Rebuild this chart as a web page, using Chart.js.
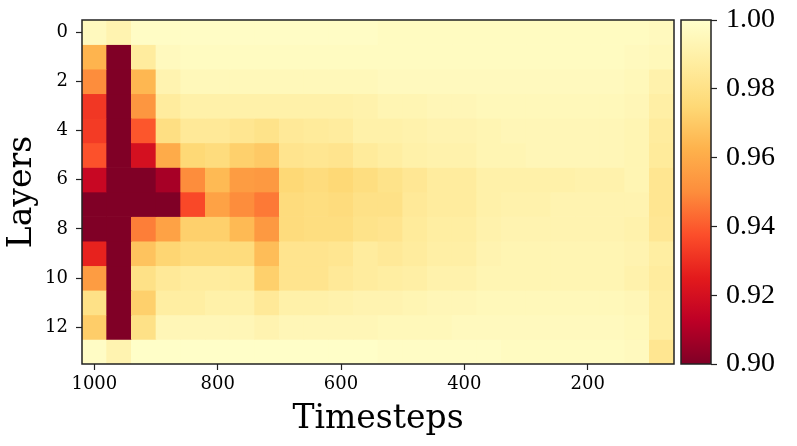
<!DOCTYPE html>
<html>
<head>
<meta charset="utf-8">
<script src="https://cdn.jsdelivr.net/npm/chart.js@4.4.1/dist/chart.umd.min.js"></script>
<style>
  body { margin: 0; background: #fff; }
  #wrap { position: relative; width: 797px; height: 446px; }
  canvas { position: absolute; top: 0; }
</style>
</head>
<body>
<div id="wrap">
  <canvas id="heat" width="680" height="446" style="left:0"></canvas>
  <canvas id="cbar" width="127" height="446" style="left:670px"></canvas>
</div>
<script>
// columns = timesteps, rows = layers
const timesteps = ['1000', '960', '920', '880', '840', '800', '760', '720', '680', '640', '600', '560',
  '520', '480', '440', '400', '360', '320', '280', '240', '200', '160', '120', '80'];
const xTickLabels = ['1000', '800', '600', '400', '200'];
const layerTicks = [0, 2, 4, 6, 8, 10, 12];
const cbarTicks = [0.90, 0.92, 0.94, 0.96, 0.98, 1.00];

const layer0 = [0.996, 0.992, 0.998, 0.998, 0.998, 0.998, 0.998, 0.998, 0.998, 0.998, 0.998, 0.998, 0.997, 0.997, 0.997, 0.997, 0.997, 0.997, 0.997, 0.997, 0.997, 0.997, 0.997, 0.996];
const layer1 = [0.963, 0.890, 0.987, 0.996, 0.997, 0.997, 0.997, 0.997, 0.997, 0.997, 0.997, 0.997, 0.997, 0.997, 0.997, 0.997, 0.997, 0.997, 0.997, 0.997, 0.997, 0.997, 0.996, 0.995];
const layer2 = [0.950, 0.890, 0.964, 0.992, 0.995, 0.995, 0.995, 0.995, 0.995, 0.995, 0.995, 0.995, 0.996, 0.996, 0.996, 0.996, 0.996, 0.996, 0.996, 0.996, 0.996, 0.996, 0.995, 0.991];
const layer3 = [0.932, 0.890, 0.953, 0.987, 0.990, 0.990, 0.990, 0.990, 0.990, 0.990, 0.990, 0.991, 0.993, 0.993, 0.994, 0.994, 0.995, 0.995, 0.995, 0.995, 0.995, 0.995, 0.994, 0.989];
const layer4 = [0.933, 0.890, 0.939, 0.979, 0.985, 0.985, 0.983, 0.981, 0.985, 0.986, 0.987, 0.990, 0.990, 0.991, 0.992, 0.992, 0.993, 0.994, 0.994, 0.994, 0.994, 0.994, 0.993, 0.987];
const layer5 = [0.938, 0.890, 0.920, 0.960, 0.975, 0.977, 0.972, 0.970, 0.982, 0.983, 0.982, 0.986, 0.988, 0.990, 0.991, 0.991, 0.993, 0.993, 0.994, 0.994, 0.994, 0.994, 0.993, 0.986];
const layer6 = [0.916, 0.890, 0.890, 0.908, 0.950, 0.965, 0.955, 0.954, 0.975, 0.977, 0.975, 0.978, 0.981, 0.984, 0.987, 0.987, 0.990, 0.990, 0.990, 0.990, 0.991, 0.991, 0.993, 0.983];
const layer7 = [0.890, 0.890, 0.890, 0.890, 0.936, 0.957, 0.950, 0.946, 0.977, 0.978, 0.977, 0.980, 0.980, 0.985, 0.987, 0.987, 0.990, 0.991, 0.991, 0.992, 0.992, 0.992, 0.992, 0.983];
const layer8 = [0.890, 0.890, 0.947, 0.957, 0.972, 0.972, 0.965, 0.954, 0.977, 0.978, 0.978, 0.981, 0.982, 0.986, 0.988, 0.988, 0.991, 0.992, 0.992, 0.992, 0.992, 0.992, 0.991, 0.984];
const layer9 = [0.927, 0.890, 0.968, 0.974, 0.977, 0.977, 0.977, 0.966, 0.982, 0.982, 0.983, 0.987, 0.985, 0.987, 0.989, 0.989, 0.992, 0.993, 0.993, 0.993, 0.993, 0.993, 0.992, 0.988];
const layer10 = [0.955, 0.890, 0.980, 0.985, 0.987, 0.987, 0.986, 0.972, 0.982, 0.982, 0.985, 0.987, 0.988, 0.989, 0.991, 0.991, 0.993, 0.993, 0.993, 0.993, 0.993, 0.993, 0.991, 0.987];
const layer11 = [0.980, 0.890, 0.972, 0.988, 0.988, 0.990, 0.990, 0.985, 0.990, 0.990, 0.991, 0.992, 0.992, 0.993, 0.994, 0.994, 0.995, 0.995, 0.995, 0.995, 0.995, 0.995, 0.994, 0.988];
const layer12 = [0.971, 0.890, 0.980, 0.994, 0.994, 0.994, 0.994, 0.992, 0.994, 0.994, 0.994, 0.994, 0.995, 0.995, 0.995, 0.996, 0.996, 0.996, 0.996, 0.996, 0.996, 0.996, 0.995, 0.988];
const layer13 = [0.998, 0.992, 0.999, 0.999, 0.999, 0.999, 0.999, 0.999, 0.999, 0.999, 0.999, 0.999, 0.998, 0.998, 0.998, 0.998, 0.998, 0.997, 0.997, 0.997, 0.997, 0.997, 0.996, 0.983];
const layers = [layer0, layer1, layer2, layer3, layer4, layer5, layer6, layer7, layer8, layer9, layer10, layer11, layer12, layer13];

const vmin = 0.90, vmax = 1.00;
// YlOrRd reversed: dark red at vmin, pale yellow at vmax
const cmap = ['#800026', '#bd0026', '#e31a1c', '#fc4e2a', '#fd8d3c', '#feb24c', '#fed976', '#ffeda0', '#ffffcc'];

function hexToRgb(h) {
  return [parseInt(h.slice(1, 3), 16), parseInt(h.slice(3, 5), 16), parseInt(h.slice(5, 7), 16)];
}
const cmapRgb = cmap.map(hexToRgb);

function colorFor(v) {
  let t = (v - vmin) / (vmax - vmin);
  t = Math.max(0, Math.min(1, t)) * (cmap.length - 1);
  const i = Math.min(Math.floor(t), cmap.length - 2);
  const f = t - i;
  const a = cmapRgb[i], b = cmapRgb[i + 1];
  const c = a.map((x, k) => Math.round(x + (b[k] - x) * f));
  return `rgb(${c[0]}, ${c[1]}, ${c[2]})`;
}

const frame = {
  id: 'frame',
  afterDatasetsDraw(chart) {
    const { ctx, chartArea: a } = chart;
    ctx.save();
    ctx.strokeStyle = '#222';
    ctx.lineWidth = 1.5;
    ctx.strokeRect(a.left, a.top, a.right - a.left, a.bottom - a.top);
    ctx.restore();
  }
};

Chart.defaults.font.family = '"DejaVu Serif", serif';
Chart.defaults.color = '#000';

new Chart(document.getElementById('heat').getContext('2d'), {
  type: 'bar',
  data: {
    labels: timesteps,
    datasets: layers.map((row, r) => ({
      data: row.map(() => [r - 0.5, r + 0.5]),
      backgroundColor: row.map(colorFor),
      borderWidth: 0,
      grouped: false,
      barPercentage: 1,
      categoryPercentage: 1
    }))
  },
  options: {
    responsive: false,
    animation: false,
    layout: { padding: { top: 20, right: 6, left: 0, bottom: 0 } },
    plugins: { legend: { display: false }, tooltip: { enabled: false } },
    scales: {
      x: {
        type: 'category',
        afterBuildTicks(scale) {
          scale.ticks = scale.ticks.filter(t => xTickLabels.includes(timesteps[t.value]));
        },
        afterFit(scale) { scale.height = 82; },
        grid: { offset: false, drawOnChartArea: false, tickLength: 6, tickColor: '#222', tickWidth: 1.2 },
        border: { display: false },
        ticks: { autoSkip: false, maxRotation: 0, padding: 4, font: { size: 18 } },
        title: { display: true, text: 'Timesteps', font: { size: 33 }, padding: { top: 0, bottom: 7 } }
      },
      y: {
        type: 'linear',
        reverse: true,
        min: -0.5,
        max: 13.5,
        afterBuildTicks(scale) {
          scale.ticks = layerTicks.map(v => ({ value: v }));
        },
        afterFit(scale) { scale.width = 82; },
        grid: { drawOnChartArea: false, tickLength: 6, tickColor: '#222', tickWidth: 1.2 },
        border: { display: false },
        ticks: { padding: 8, font: { size: 18 }, callback: v => String(v) },
        title: { display: true, text: 'Layers', font: { size: 33 }, padding: { top: 3, bottom: 0 } }
      }
    }
  },
  plugins: [frame]
});

new Chart(document.getElementById('cbar').getContext('2d'), {
  type: 'bar',
  data: {
    labels: ['cbar'],
    datasets: [{
      data: [[vmin, vmax]],
      borderWidth: 0,
      barPercentage: 1,
      categoryPercentage: 1,
      backgroundColor(context) {
        const chart = context.chart;
        if (!chart.chartArea) return cmap[4];
        const ys = chart.scales.y;
        const g = chart.ctx.createLinearGradient(0, ys.getPixelForValue(vmin), 0, ys.getPixelForValue(vmax));
        cmap.forEach((c, i) => g.addColorStop(i / (cmap.length - 1), c));
        return g;
      }
    }]
  },
  options: {
    responsive: false,
    animation: false,
    layout: { padding: { top: 20, right: 0, left: 11, bottom: 82 } },
    plugins: { legend: { display: false }, tooltip: { enabled: false } },
    scales: {
      x: { display: false },
      y: {
        position: 'right',
        min: vmin,
        max: vmax,
        afterBuildTicks(scale) {
          scale.ticks = cbarTicks.map(v => ({ value: v }));
        },
        afterFit(scale) {
          scale.width = 86;
          scale.paddingTop = 0;
          scale.paddingBottom = 0;
        },
        grid: { drawOnChartArea: false, tickLength: 6, tickColor: '#222', tickWidth: 1.2 },
        border: { display: false },
        ticks: { padding: 9, font: { family: '"Liberation Serif", serif', size: 28 }, callback: v => v.toFixed(2) }
      }
    }
  },
  plugins: [frame]
});
</script>
</body>
</html>
